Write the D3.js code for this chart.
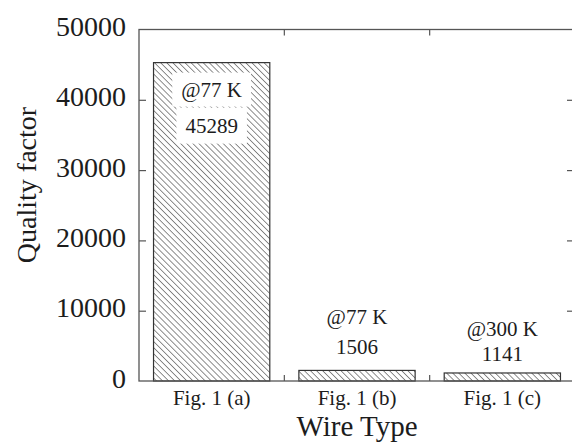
<!DOCTYPE html>
<html>
<head>
<meta charset="utf-8">
<script src="https://cdn.jsdelivr.net/npm/d3@7"></script>
<style>
  html, body { margin: 0; padding: 0; background: #fff; }
  svg { display: block; }
  text { font-family: "Liberation Serif", "Times New Roman", serif; fill: #1c1c1c; }
</style>
</head>
<body>
<svg id="chart" width="572" height="443"></svg>
<script>
// ---- data ----
const categories = ["Fig. 1 (a)", "Fig. 1 (b)", "Fig. 1 (c)"];
const qualityFactor = [45289, 1506, 1141];
const temperatures = ["@77 K", "@77 K", "@300 K"];
const yTicks = [0, 10000, 20000, 30000, 40000, 50000];
const xTitle = "Wire Type";
const yTitle = "Quality factor";

(function () {
// ---- layout ----
const mLeft = 139, mRight = 575, mTop = 29.5, mBottom = 381;
const svg = d3.select("#chart");

const x = d3.scaleBand().domain(categories).range([mLeft, mRight])
  .paddingInner(0.2).paddingOuter(0.1);
const y = d3.scaleLinear().domain([0, 50000]).range([mBottom, mTop]);

// hatch pattern (lines running top-left to bottom-right)
const defs = svg.append("defs");
const pat = defs.append("pattern").attr("id", "hatch")
  .attr("patternUnits", "userSpaceOnUse").attr("width", 4.3).attr("height", 4.3)
  .attr("patternTransform", "rotate(-45)");
pat.append("rect").attr("width", 4.3).attr("height", 4.3).attr("fill", "#fff");
pat.append("line").attr("x1", 0).attr("y1", 0).attr("x2", 0).attr("y2", 4.3)
  .attr("stroke", "#333").attr("stroke-width", 1.1);

// bars
svg.append("g").selectAll("rect").data(categories).join("rect")
  .attr("x", d => x(d))
  .attr("y", (d, i) => y(qualityFactor[i]))
  .attr("width", x.bandwidth())
  .attr("height", (d, i) => y(0) - y(qualityFactor[i]))
  .attr("fill", "url(#hatch)")
  .attr("stroke", "#333").attr("stroke-width", 1.2);

// frame
const frame = svg.append("g").attr("stroke", "#555").attr("stroke-width", 1.3).attr("fill", "none");
frame.append("rect").attr("x", mLeft).attr("y", mTop).attr("width", mRight - mLeft).attr("height", mBottom - mTop);

// y axis (ticks inward)
const yAxis = d3.axisLeft(y).tickValues(yTicks).tickSize(-7).tickPadding(13).tickFormat(d3.format("d"));
const gy = svg.append("g").attr("transform", `translate(${mLeft},0)`).call(yAxis);
gy.select(".domain").remove();
gy.selectAll(".tick line").attr("stroke", "#555").attr("stroke-width", 1.2);
gy.selectAll(".tick text").style("font-family", "Liberation Serif, serif")
  .style("font-size", "28px").attr("fill", "#1c1c1c").attr("dy", "0.22em");
gy.selectAll(".tick").filter(d => d === 0 || d === 50000).select("line").remove();

// right ticks
const yAxisR = d3.axisRight(y).tickValues(yTicks.filter(d => d > 0 && d < 50000)).tickSize(-5).tickFormat("");
const gyr = svg.append("g").attr("transform", `translate(${mRight - 3},0)`).call(yAxisR);
gyr.select(".domain").remove();
gyr.selectAll(".tick line").attr("stroke", "#555").attr("stroke-width", 1.2);

// x boundary ticks (top and bottom, inward)
const bounds = categories.slice(1).map(c => x(c) - x.step() * x.paddingInner() / 2);
svg.append("g").selectAll("line").data(bounds).join("line")
  .attr("x1", d => d).attr("x2", d => d).attr("y1", mTop).attr("y2", mTop + 6)
  .attr("stroke", "#555").attr("stroke-width", 1.2);
svg.append("g").selectAll("line").data(bounds).join("line")
  .attr("x1", d => d).attr("x2", d => d).attr("y1", mBottom).attr("y2", mBottom - 6)
  .attr("stroke", "#555").attr("stroke-width", 1.2);

// category labels
svg.append("g").selectAll("text").data(categories).join("text")
  .attr("x", d => x(d) + x.bandwidth() / 2).attr("y", 405)
  .attr("text-anchor", "middle").style("font-size", "21px").text(d => d);

// axis titles
svg.append("text").attr("x", 357).attr("y", 436).attr("text-anchor", "middle")
  .style("font-size", "29px").text(xTitle);
svg.append("text").attr("transform", "translate(36,185) rotate(-90)")
  .attr("text-anchor", "middle").style("font-size", "28px").text(yTitle);

// annotations
const ann = svg.append("g");
categories.forEach((c, i) => {
  const cx = x(c) + x.bandwidth() / 2;
  const barTop = y(qualityFactor[i]);
  let y1, y2;
  if (i === 0) { y1 = barTop + 34; y2 = y1 + 36; }
  else { y1 = barTop - (i === 1 ? 46 : 37); y2 = barTop - (i === 1 ? 16 : 12); }
  const t1 = ann.append("text").attr("x", cx).attr("y", y1).attr("text-anchor", "middle")
    .style("font-size", "21px").text(temperatures[i]);
  const t2 = ann.append("text").attr("x", cx).attr("y", y2).attr("text-anchor", "middle")
    .style("font-size", "21px").text(qualityFactor[i]);
  if (i === 0) {
    [[t1, 9, 5], [t2, 9, 6]].forEach(([t, px, py]) => {
      const b = t.node().getBBox();
      ann.insert("rect", () => t.node())
        .attr("x", b.x - px).attr("y", b.y - py)
        .attr("width", b.width + 2 * px).attr("height", b.height + 2 * py)
        .attr("fill", "#fff");
    });
  }
});
})();
</script>
</body>
</html>
